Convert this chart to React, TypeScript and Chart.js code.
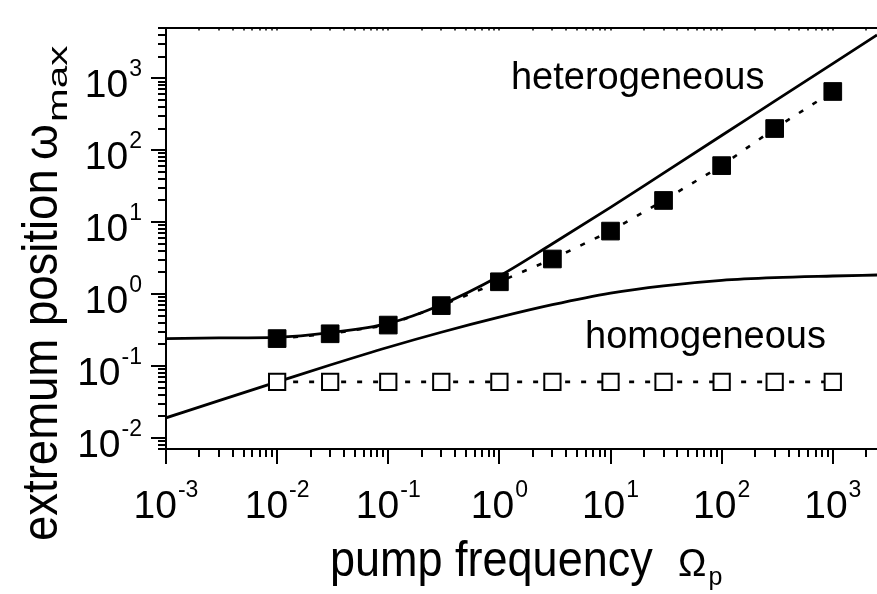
import React, { useEffect, useRef } from 'react';
import { Chart, registerables } from 'chart.js';

Chart.register(...registerables);

// ---- data ----
const PUMP_FREQ = [0.01, 0.03, 0.1, 0.3, 1, 3, 10, 30, 100, 300, 1000];
const HET_SIM = [0.24, 0.28, 0.37, 0.69, 1.48, 3.07, 7.5, 20, 61, 200, 655];
const HOM_SIM = [0.06, 0.06, 0.06, 0.06, 0.06, 0.06, 0.06, 0.06, 0.06, 0.06, 0.06];

const CURVE_FREQ = [0.001, 0.003, 0.01, 0.03, 0.1, 0.3, 1, 3, 10, 30, 100, 300, 1000, 2500];
const HET_THEORY = [0.24, 0.245, 0.25, 0.29, 0.39, 0.71, 1.78, 5.0, 16, 48, 160, 480, 1600, 4000];
const HOM_THEORY = [0.019, 0.033, 0.06, 0.103, 0.182, 0.294, 0.476, 0.71, 1.03, 1.3, 1.55, 1.69, 1.78, 1.84];

const X_TICK_EXPONENTS = [-3, -2, -1, 0, 1, 2, 3];
const Y_TICK_EXPONENTS = [-2, -1, 0, 1, 2, 3];

const X_MIN = 0.001;
const X_MAX = 2500;
const Y_MIN = 0.007;
const Y_MAX = 5000;

const HET_LABEL = { text: 'heterogeneous', x: 1.27, y: 710 };
const HOM_LABEL = { text: 'homogeneous', x: 5.9, y: 0.177 };

const X_TITLE = 'pump frequency';
const X_TITLE_SYMBOL = 'Ω';
const X_TITLE_SUB = 'p';
const Y_TITLE = 'extremum position';
const Y_TITLE_SYMBOL = 'ω';
const Y_TITLE_SUB = 'max';

const FONT = '"Liberation Sans", Arial, Helvetica, sans-serif';

function logTicks(min: number, max: number) {
  const out: { v: number; major: boolean }[] = [];
  for (let d = Math.floor(Math.log10(min)); d <= Math.ceil(Math.log10(max)); d++) {
    for (let m = 1; m <= 9; m++) {
      const v = m * Math.pow(10, d);
      if (v >= min * 0.999 && v <= max * 1.001) out.push({ v, major: m === 1 });
    }
  }
  return out;
}

function powLabelWidth(ctx: CanvasRenderingContext2D, exp: number) {
  ctx.font = `39px ${FONT}`;
  const w1 = ctx.measureText('10').width;
  ctx.font = `23px ${FONT}`;
  const w2 = ctx.measureText(String(exp)).width;
  return { w1, w2, total: w1 + 1 + w2 };
}

function drawPow(ctx: CanvasRenderingContext2D, exp: number, left: number, baseline: number) {
  const { w1 } = powLabelWidth(ctx, exp);
  ctx.font = `39px ${FONT}`;
  ctx.fillText('10', left, baseline);
  ctx.font = `23px ${FONT}`;
  ctx.fillText(String(exp), left + w1 + 1, baseline - 21);
}

const axesPlugin = {
  id: 'customAxes',
  afterDraw(chart: any) {
    const { ctx, chartArea: ca } = chart;
    const sx = chart.scales.x;
    const sy = chart.scales.y;
    ctx.save();
    ctx.strokeStyle = '#000';
    ctx.fillStyle = '#000';
    ctx.lineCap = 'butt';

    // frame lines
    ctx.lineWidth = 2;
    ctx.beginPath();
    ctx.moveTo(ca.left - 1, ca.top);
    ctx.lineTo(ca.right, ca.top);
    ctx.moveTo(ca.left, ca.top - 1);
    ctx.lineTo(ca.left, ca.bottom + 1);
    ctx.moveTo(ca.left - 1, ca.bottom);
    ctx.lineTo(ca.right, ca.bottom);
    ctx.stroke();

    // x ticks
    for (const t of logTicks(X_MIN, X_MAX)) {
      const px = Math.round(sx.getPixelForValue(t.v));
      ctx.lineWidth = 2;
      ctx.beginPath();
      ctx.moveTo(px, ca.bottom);
      ctx.lineTo(px, ca.bottom + (t.major ? 15 : 8));
      ctx.stroke();
      ctx.lineWidth = 1.5;
      ctx.beginPath();
      ctx.moveTo(px, ca.top);
      ctx.lineTo(px, ca.top + 2.5);
      ctx.stroke();
    }
    // y ticks
    ctx.lineWidth = 2;
    for (const t of logTicks(Y_MIN, Y_MAX)) {
      const py = Math.round(sy.getPixelForValue(t.v));
      ctx.beginPath();
      ctx.moveTo(ca.left, py);
      ctx.lineTo(ca.left - (t.major ? 15 : 8), py);
      ctx.stroke();
    }

    // tick labels
    ctx.textBaseline = 'alphabetic';
    ctx.textAlign = 'left';
    for (const e of X_TICK_EXPONENTS) {
      const px = sx.getPixelForValue(Math.pow(10, e));
      const { total } = powLabelWidth(ctx, e);
      drawPow(ctx, e, px - total / 2, ca.bottom + 69);
    }
    for (const e of Y_TICK_EXPONENTS) {
      const py = sy.getPixelForValue(Math.pow(10, e));
      const { total } = powLabelWidth(ctx, e);
      drawPow(ctx, e, ca.left - 24 - total, py + 19);
    }

    // annotations
    ctx.font = `38px ${FONT}`;
    for (const lab of [HET_LABEL, HOM_LABEL]) {
      ctx.fillText(lab.text, sx.getPixelForValue(lab.x), sy.getPixelForValue(lab.y));
    }

    // x title
    {
      const base = 576;
      ctx.save();
      ctx.translate(330, base);
      ctx.scale(0.9, 1);
      ctx.font = `50px ${FONT}`;
      ctx.fillText(X_TITLE, 0, 0);
      ctx.restore();
      ctx.font = `38px ${FONT}`;
      ctx.fillText(X_TITLE_SYMBOL, 678, base);
      const wO = ctx.measureText(X_TITLE_SYMBOL).width;
      ctx.font = `25px ${FONT}`;
      ctx.fillText(X_TITLE_SUB, 678 + wO + 2, base + 9);
    }

    // y title (rotated)
    {
      ctx.save();
      ctx.translate(57, 541);
      ctx.rotate(-Math.PI / 2);
      ctx.save();
      ctx.scale(0.91, 1);
      ctx.font = `50px ${FONT}`;
      ctx.fillText(Y_TITLE, 0, 0);
      ctx.restore();
      ctx.font = `46px ${FONT}`;
      ctx.fillText(Y_TITLE_SYMBOL, 381, 0);
      const wW = ctx.measureText(Y_TITLE_SYMBOL).width;
      ctx.save();
      ctx.translate(381 + wW + 2, 10);
      ctx.scale(1.5, 1);
      ctx.font = `27px ${FONT}`;
      ctx.fillText(Y_TITLE_SUB, 0, 0);
      ctx.restore();
      ctx.restore();
    }

    ctx.restore();
  },
};

function toPoints(xs: number[], ys: number[]) {
  return xs.map((x, i) => ({ x, y: ys[i] }));
}

export default function App() {
  const canvasRef = useRef<HTMLCanvasElement | null>(null);

  useEffect(() => {
    const canvas = canvasRef.current;
    if (!canvas) return;
    const chart = new Chart(canvas, {
      type: 'line',
      data: {
        datasets: [
          {
            label: 'heterogeneous simulation',
            data: toPoints(PUMP_FREQ, HET_SIM),
            borderColor: '#000',
            borderWidth: 2.6,
            borderDash: [5, 11],
            backgroundColor: '#000',
            pointStyle: 'rect',
            pointRadius: 12.5,
            pointBorderWidth: 1,
            pointBorderColor: '#000',
            pointBackgroundColor: '#000',
            tension: 0,
          },
          {
            label: 'homogeneous simulation',
            data: toPoints(PUMP_FREQ, HOM_SIM),
            borderColor: '#000',
            borderWidth: 2.6,
            borderDash: [5, 11],
            pointStyle: 'rect',
            pointRadius: 11.5,
            pointBorderWidth: 2,
            pointBorderColor: '#000',
            pointBackgroundColor: '#fff',
            tension: 0,
          },
          {
            label: 'heterogeneous theory',
            data: toPoints(CURVE_FREQ, HET_THEORY),
            borderColor: '#000',
            borderWidth: 2.8,
            pointRadius: 0,
            cubicInterpolationMode: 'monotone',
          },
          {
            label: 'homogeneous theory',
            data: toPoints(CURVE_FREQ, HOM_THEORY),
            borderColor: '#000',
            borderWidth: 2.8,
            pointRadius: 0,
            cubicInterpolationMode: 'monotone',
          },
        ],
      },
      options: {
        animation: false,
        responsive: false,
        devicePixelRatio: 1,
        layout: { autoPadding: false, padding: { left: 166, top: 28, right: 0, bottom: 145 } },
        plugins: {
          legend: { display: false },
          tooltip: { enabled: false },
          title: { display: false },
        },
        events: [],
        scales: {
          x: { type: 'logarithmic', min: X_MIN, max: X_MAX, display: false },
          y: { type: 'logarithmic', min: Y_MIN, max: Y_MAX, display: false },
        },
      },
      plugins: [axesPlugin],
    } as any);
    return () => chart.destroy();
  }, []);

  return (
    <div style={{ position: 'absolute', left: 0, top: 0, width: 877, height: 594, background: '#fff' }}>
      <canvas ref={canvasRef} width={877} height={594} style={{ display: 'block' }} />
    </div>
  );
}
